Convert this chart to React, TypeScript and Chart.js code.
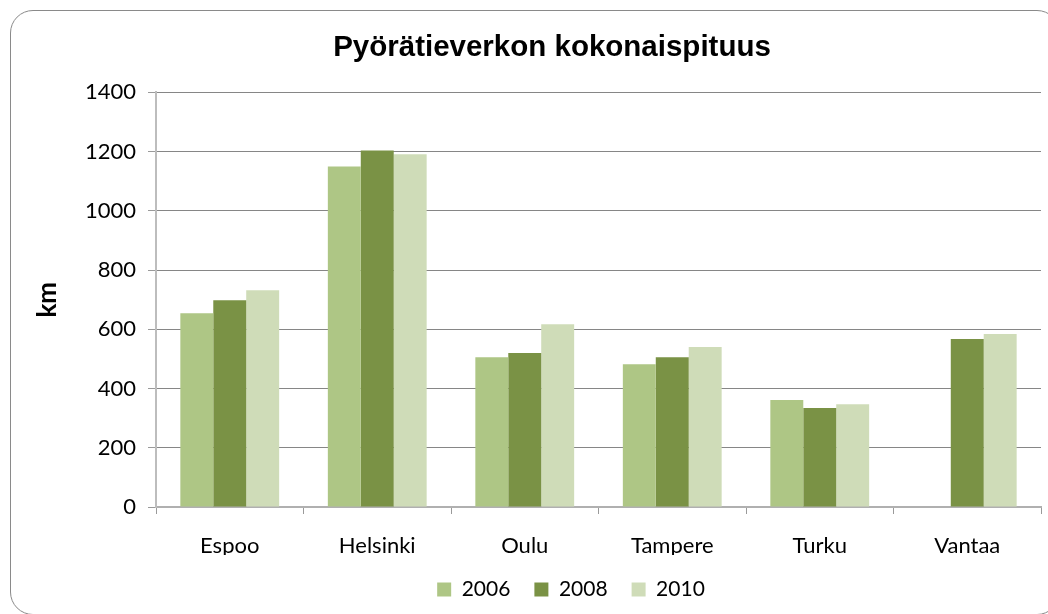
import React, { useEffect, useRef } from "react";
import { Chart, registerables } from "chart.js";

Chart.register(...registerables);

const categories = ["Espoo", "Helsinki", "Oulu", "Tampere", "Turku", "Vantaa"];
const seriesNames = ["2006", "2008", "2010"];
const values2006 = [654, 1150, 506, 482, 361, null];
const values2008 = [698, 1204, 520, 506, 334, 567];
const values2010 = [732, 1191, 617, 540, 347, 584];
const yTicksMin = 0;
const yTicksMax = 1400;
const yTicksStep = 200;
const titleText = "Pyörätieverkon kokonaispituus";
const yAxisTitle = "km";

const colors = ["#AEC685", "#7A9245", "#CFDCB8"];

const LEGEND_SHIFT = 19;

const shiftLegend = {
  id: "shiftLegend",
  afterLayout(chart: any) {
    const l = chart.legend;
    if (l) {
      l.left += LEGEND_SHIFT;
      l.right += LEGEND_SHIFT;
    }
  },
};

export default function App() {
  const ref = useRef<HTMLCanvasElement | null>(null);

  useEffect(() => {
    if (!ref.current) return;
    const data = [values2006, values2008, values2010];
    const chart = new Chart(ref.current, {
      type: "bar",
      data: {
        labels: categories,
        datasets: seriesNames.map((name, i) => ({
          label: name,
          data: data[i] as any,
          backgroundColor: colors[i],
          borderWidth: 0,
          categoryPercentage: 0.67,
          barPercentage: 1.0,
        })),
      },
      options: {
        animation: false,
        responsive: false,
        maintainAspectRatio: false,
        layout: { padding: { left: 63, right: 7, top: 0, bottom: 4 } },
        plugins: {
          title: {
            display: true,
            text: titleText,
            color: "#000",
            font: { family: "'Liberation Sans', Arial, sans-serif", size: 29.5, weight: "bold" },
            padding: { top: 30.5, bottom: 26.5 },
          },
          legend: {
            display: true,
            position: "bottom",
            labels: {
              color: "#000",
              boxWidth: 14,
              boxHeight: 14,
              padding: 24,
              font: { family: "Lato, sans-serif", size: 21 },
            },
          },
          tooltip: { enabled: false },
        },
        scales: {
          x: {
            afterFit: (s: any) => {
              s.height = 48;
            },
            grid: {
              display: true,
              drawOnChartArea: false,
              drawTicks: true,
              tickLength: 7,
              offset: true,
              color: "#9a9a9a",
              tickColor: "#9a9a9a",
            },
            border: { display: true, color: "#b0b0b0", width: 2 },
            ticks: {
              color: "#000",
              padding: 19,
              font: { family: "Lato, sans-serif", size: 22 },
            },
          },
          y: {
            min: yTicksMin,
            max: yTicksMax,
            afterFit: (s: any) => {
              s.width = 93;
            },
            grid: {
              color: "#868686",
              lineWidth: 1,
              drawTicks: true,
              tickLength: 8,
              tickColor: "#9a9a9a",
            },
            border: { display: true, color: "#bdbdbd", width: 2 },
            ticks: {
              stepSize: yTicksStep,
              color: "#000",
              padding: 12,
              font: { family: "Lato, sans-serif", size: 22 },
              callback: (v: any) => String(v),
            },
            title: {
              display: true,
              text: yAxisTitle,
              color: "#000",
              font: { family: "Lato, sans-serif", size: 26, weight: "bold" },
              padding: { top: -31, bottom: 0 },
            },
          },
        },
      },
      plugins: [shiftLegend],
    });
    return () => chart.destroy();
  }, []);

  return (
    <div
      style={{
        position: "fixed",
        left: 0,
        top: 0,
        width: 1048,
        height: 614,
        overflow: "hidden",
        background: "#fff",
      }}
    >
      <div
        style={{
          position: "absolute",
          left: 10,
          top: 10,
          width: 1050,
          height: 605,
          border: "1px solid #8a8a8a",
          borderRadius: 23,
          boxSizing: "border-box",
        }}
      />
      <canvas
        ref={ref}
        width={1048}
        height={614}
        style={{ position: "absolute", left: 0, top: 0, width: 1048, height: 614 }}
      />
    </div>
  );
}
